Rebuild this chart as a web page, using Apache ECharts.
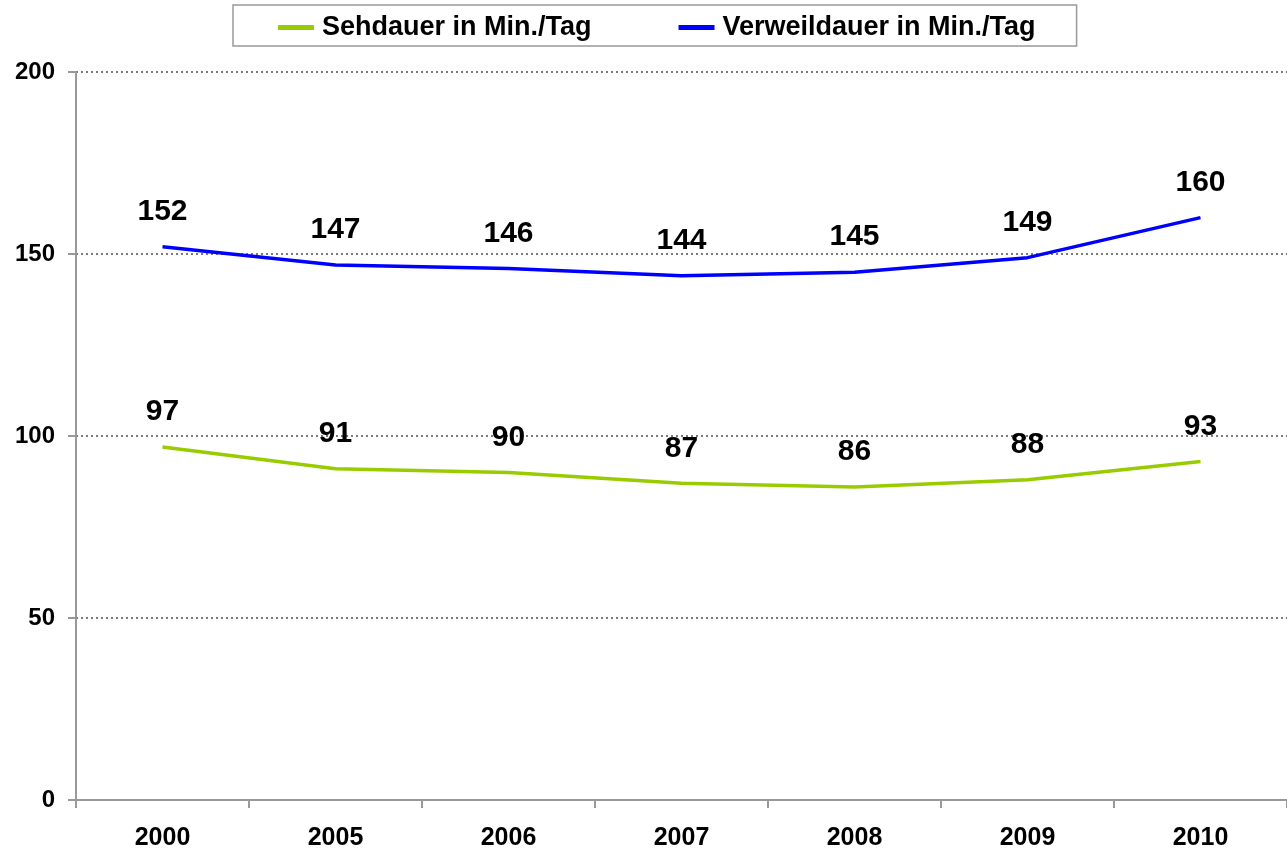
<!DOCTYPE html>
<html>
<head>
<meta charset="utf-8">
<script src="https://cdn.jsdelivr.net/npm/echarts@6/dist/echarts.min.js"></script>
<style>
html,body{margin:0;padding:0;background:#fff;}
#chart{width:1287px;height:857px;}
</style>
</head>
<body>
<div id="chart"></div>
<script>
var categories = ['2000', '2005', '2006', '2007', '2008', '2009', '2010'];
var sehdauer = [97, 91, 90, 87, 86, 88, 93];
var verweildauer = [152, 147, 146, 144, 145, 149, 160];
var seriesNames = ['Sehdauer in Min./Tag', 'Verweildauer in Min./Tag'];

var FONT = 'Liberation Sans, Arial, sans-serif';
var chart = echarts.init(document.getElementById('chart'), null, {renderer: 'canvas'});

function lineSeries(name, data, color) {
  return {
    name: name,
    type: 'line',
    data: data,
    symbol: 'circle',
    symbolSize: 0,
    lineStyle: {color: color, width: 3.5},
    itemStyle: {color: color},
    label: {
      show: true,
      position: 'top',
      distance: 20,
      color: '#000',
      fontFamily: FONT,
      fontWeight: 'bold',
      fontSize: 30
    },
    emphasis: {disabled: true},
    animation: false
  };
}

chart.setOption({
  animation: false,
  backgroundColor: '#fff',
  legend: {
    left: 233,
    top: 5,
    padding: [9, 41, 5, 45],
    borderColor: '#999',
    borderWidth: 1.5,
    itemGap: 87,
    itemWidth: 36,
    itemHeight: 5,
    icon: 'rect',
    textStyle: {
      fontFamily: FONT,
      fontWeight: 'bold',
      fontSize: 27,
      color: '#000',
      lineHeight: 27,
      padding: [0, 0, 0, 3]
    },
    data: seriesNames
  },
  grid: {left: 76, right: 0, top: 72, bottom: 57, containLabel: false},
  xAxis: {
    type: 'category',
    data: categories,
    boundaryGap: true,
    axisLine: {lineStyle: {color: '#999', width: 2}},
    axisTick: {show: true, length: 8, lineStyle: {color: '#999', width: 2}},
    axisLabel: {
      margin: 26,
      color: '#000',
      fontFamily: FONT,
      fontWeight: 'bold',
      fontSize: 25
    },
    splitLine: {show: false}
  },
  yAxis: {
    type: 'value',
    min: 0,
    max: 200,
    interval: 50,
    axisLine: {show: true, lineStyle: {color: '#999', width: 2}},
    axisTick: {show: true, length: 8, lineStyle: {color: '#999', width: 2}},
    axisLabel: {
      margin: 21,
      color: '#000',
      fontFamily: FONT,
      fontWeight: 'bold',
      fontSize: 24
    },
    splitLine: {show: true, lineStyle: {color: '#7a7a7a', type: [2, 3], width: 2}}
  },
  series: [
    lineSeries(seriesNames[0], sehdauer, '#99CC00'),
    lineSeries(seriesNames[1], verweildauer, '#0000FF')
  ]
});
</script>
</body>
</html>
